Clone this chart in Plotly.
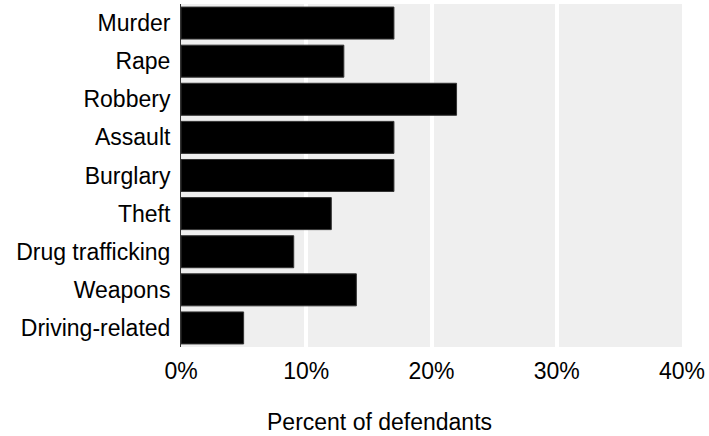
import plotly.graph_objects as go

offences = ["Murder", "Rape", "Robbery", "Assault", "Burglary", "Theft",
            "Drug trafficking", "Weapons", "Driving-related"]
percent = [17, 13, 22, 17, 17, 12, 9, 14, 5]
tick_vals = [0, 10, 20, 30, 40]
tick_text = ["0%", "10%", "20%", "30%", "40%"]

FONT = "Liberation Sans, Arial, sans-serif"
SIZE = 23

fig = go.Figure(
    go.Bar(
        x=percent,
        y=offences,
        orientation="h",
        marker=dict(color="#000000", line=dict(color="#333333", width=1)),
        width=0.84,
    )
)

fig.update_layout(
    width=709,
    height=436,
    margin=dict(l=181, r=27, t=4, b=89),
    plot_bgcolor="#efefef",
    paper_bgcolor="#ffffff",
    showlegend=False,
    font=dict(family=FONT, size=SIZE, color="#000000"),
)

fig.update_xaxes(
    range=[0, 40],
    tickvals=tick_vals,
    ticktext=tick_text,
    showgrid=True,
    gridcolor="#ffffff",
    gridwidth=4,
    zeroline=False,
    ticks="",
    ticklabelstandoff=8,
)
fig.update_yaxes(
    categoryorder="array",
    categoryarray=offences[::-1],
    showgrid=False,
    showline=True,
    linecolor="#333333",
    linewidth=1,
    ticks="",
    ticklabelstandoff=5,
)

fig.add_annotation(
    text="Percent of defendants",
    xref="paper", yref="paper",
    x=0.397, y=-0.219,
    xanchor="center", yanchor="middle",
    showarrow=False,
    font=dict(family=FONT, size=SIZE),
)

# drop the default 8px body margin so the chart sits flush in the window
fig.write_html(
    "out.html",
    config={"displayModeBar": False},
    post_script="document.body.style.margin='0';",
)
